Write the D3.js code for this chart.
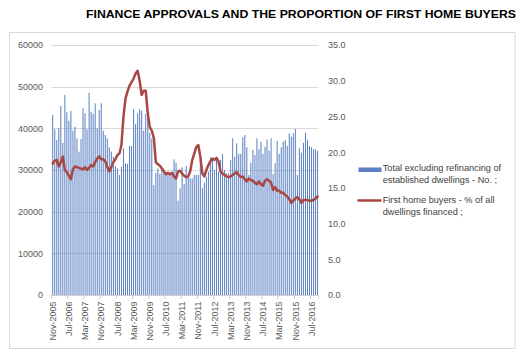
<!DOCTYPE html>
<html>
<head>
<meta charset="utf-8">
<script src="https://cdn.jsdelivr.net/npm/d3@7"></script>
<style>
  html, body { margin: 0; padding: 0; background: #fff; }
  svg { display: block; }
</style>
</head>
<body>
<svg id="chart" width="523" height="356"></svg>
<script>
// ---------- DATA ----------
const startMonth = "2005-11";   // first category (Nov-2005), monthly to Oct-2016
const monthCount = 132;

const approvals = [
  43200, 39760, 37200, 40000, 45360, 36560, 48000, 43840, 41840, 44160,
  39440, 40400, 37600, 34400, 37440, 44800, 43600, 39760, 48560, 44000,
  43440, 46000, 40000, 44400, 46000, 39440, 38400, 37600, 35440, 34400,
  33200, 30960, 30400, 28800, 30800, 35200, 31600, 31440, 35760, 35760,
  44560, 41040, 43600, 44560, 44240, 39440, 43440, 42640, 38960, 37600,
  26400, 29360, 30400, 29040, 30160, 29840, 29200, 29200, 29040, 29200,
  32560, 31760, 22640, 25600, 30640, 26640, 30960, 28400, 28000, 28000,
  28800, 28800, 28800, 32400, 25600, 26960, 28400, 29600, 33040, 32400,
  30000, 32560, 29600, 32400, 33840, 30000, 29200, 29200, 32400, 37600,
  33200, 36400, 33840, 33840, 37840, 38400, 35440, 28800, 31760, 34800,
  33600, 37600, 34960, 36800, 33840, 35600, 37360, 34640, 37600, 29040,
  31600, 37040, 33840, 35440, 36800, 37200, 35760, 38800, 38000, 38800,
  39840, 28800, 35200, 34160, 36560, 38960, 37200, 35760, 35440, 34960,
  34960, 34640
];

const firstHomeBuyersPct = [
  18.4, 18.8, 18.9, 18.0, 18.6, 19.4, 17.5, 17.2, 16.7, 16.2,
  17.6, 18.0, 17.9, 17.8, 17.7, 17.6, 17.9, 17.5, 17.8, 18.2,
  18.0, 18.6, 19.1, 19.4, 19.0, 19.0, 18.7, 17.9, 17.3, 17.9,
  18.6, 19.0, 19.6, 19.8, 21.0, 25.0, 27.5, 28.5, 29.3, 29.8,
  30.3, 31.0, 31.4, 30.0, 28.0, 28.6, 28.6, 25.5, 23.5, 23.0,
  22.0, 18.6, 18.3, 18.1, 17.7, 17.3, 16.9, 17.1, 16.9, 17.1,
  16.6, 16.3, 17.3, 17.4, 17.0, 16.7, 16.5, 16.6, 17.3, 18.9,
  19.8, 20.7, 21.0, 19.4, 17.0, 16.6, 17.5, 18.2, 18.7, 19.1,
  18.9, 19.2, 18.7, 17.3, 17.0, 16.8, 16.6, 16.5, 16.6, 16.8,
  17.0, 17.2, 16.8, 16.5, 16.6, 16.2, 15.9, 16.3, 16.1, 16.0,
  15.7, 15.5, 15.9, 15.5, 15.3, 16.0, 16.2, 16.0, 15.7, 14.7,
  15.1, 14.6, 14.6, 14.3, 14.3, 14.0, 13.8, 13.4, 12.9, 13.2,
  13.5, 13.7, 13.4, 12.9, 13.3, 13.3, 13.3, 13.2, 13.2, 13.3,
  13.5, 13.8
];

const xTickLabels = ["Nov-2005","Jul-2006","Mar-2007","Nov-2007","Jul-2008","Mar-2009",
  "Nov-2009","Jul-2010","Mar-2011","Nov-2011","Jul-2012","Mar-2013","Nov-2013",
  "Jul-2014","Mar-2015","Nov-2015","Jul-2016"];
const leftTicks = [0, 10000, 20000, 30000, 40000, 50000, 60000];
const rightTicks = [0, 5, 10, 15, 20, 25, 30, 35];
const legendLabels = [
  ["Total excluding refinancing of", "established dwellings - No. ;"],
  ["First home buyers - % of all", "dwellings financed ;"]
];
const chartTitle = "FINANCE APPROVALS AND THE PROPORTION OF FIRST HOME BUYERS";

// ---------- BUILD ----------
(function () {
const fmtMonth = d3.timeFormat("%b-%Y");
const parse = d3.timeParse("%Y-%m");
const months = d3.range(monthCount).map(i => fmtMonth(d3.timeMonth.offset(parse(startMonth), i)));
const rows = months.map((m, i) => ({ m, v: approvals[i], p: firstHomeBuyersPct[i] }));

const svg = d3.select("#chart");
const font = "'Liberation Sans', Arial, sans-serif";

// chart frame
svg.append("rect").attr("x", 9.5).attr("y", 32.5).attr("width", 505.5).attr("height", 316)
  .attr("fill", "#fff").attr("stroke", "#d9d9d9").attr("stroke-width", 1);

// title
svg.append("text").attr("x", 86).attr("y", 17.5)
  .attr("font-family", font).attr("font-weight", "bold").attr("font-size", 11.5)
  .attr("fill", "#000").attr("textLength", 430).attr("lengthAdjust", "spacingAndGlyphs")
  .text(chartTitle);

const pL = 51.7, pR = 318.6, pT = 45, pB = 295;
const x = d3.scaleBand().domain(months).range([pL, pR]).padding(0);
const yL = d3.scaleLinear().domain([0, 60000]).range([pB, pT]);
const yR = d3.scaleLinear().domain([0, 35]).range([pB, pT]);
const bw = x.bandwidth();

// gridlines
svg.append("g").selectAll("line").data(leftTicks).join("line")
  .attr("x1", pL).attr("x2", pR)
  .attr("y1", d => Math.round(yL(d)) + 0.5).attr("y2", d => Math.round(yL(d)) + 0.5)
  .attr("stroke", "#d9d9d9").attr("stroke-width", 1);

// left axis labels
const gL = svg.append("g").attr("transform", `translate(${pL - 8.7},0)`)
  .call(d3.axisLeft(yL).tickValues(leftTicks).tickSize(0).tickPadding(0).tickFormat(d3.format("d")));
gL.select(".domain").remove();
gL.selectAll("text").attr("font-family", font).attr("font-size", 9).attr("fill", "#595959");

// right axis labels
const gR = svg.append("g").attr("transform", `translate(328,0)`)
  .call(d3.axisRight(yR).tickValues(rightTicks).tickSize(0).tickPadding(0).tickFormat(d3.format(".1f")));
gR.select(".domain").remove();
gR.selectAll("text").attr("font-family", font).attr("font-size", 9).attr("fill", "#595959");

// bars
svg.append("g").selectAll("rect").data(rows).join("rect")
  .attr("x", d => x(d.m) + bw * 0.25)
  .attr("width", bw * 0.5)
  .attr("y", d => yL(d.v))
  .attr("height", d => yL(0) - yL(d.v))
  .attr("fill", "#5b80c4");

// x axis line & ticks
svg.append("line").attr("x1", pL).attr("x2", pR).attr("y1", pB + 0.5).attr("y2", pB + 0.5)
  .attr("stroke", "#d0d0d0");
const labeled = months.filter(m => xTickLabels.includes(m));
svg.append("g").selectAll("line").data(labeled.concat([null])).join("line")
  .attr("x1", d => d === null ? pR : x(d)).attr("x2", d => d === null ? pR : x(d))
  .attr("y1", pB).attr("y2", pB + 4)
  .attr("stroke", "#d0d0d0");
svg.append("g").selectAll("text").data(labeled).join("text")
  .attr("transform", d => `translate(${x(d) + bw / 2},${pB + 6.5}) rotate(-90)`)
  .attr("text-anchor", "end").attr("dy", "0.35em")
  .attr("font-family", font).attr("font-size", 9).attr("fill", "#595959")
  .text(d => d);

// line
const line = d3.line().x(d => x(d.m) + bw / 2).y(d => yR(d.p)).curve(d3.curveLinear);
svg.append("path").datum(rows).attr("d", line)
  .attr("fill", "none").attr("stroke", "#a94843").attr("stroke-width", 2.5)
  .attr("stroke-linejoin", "round").attr("stroke-linecap", "round");

// legend
const lg = svg.append("g");
lg.append("rect").attr("x", 358.5).attr("y", 167.5).attr("width", 23).attr("height", 4.5).attr("fill", "#5b80c4");
lg.append("line").attr("x1", 357.5).attr("x2", 381.5).attr("y1", 200.5).attr("y2", 200.5)
  .attr("stroke", "#a94843").attr("stroke-width", 2.5);
const legY = [[171.2, 183.2], [203.3, 215.3]];
legendLabels.forEach((lines, i) => {
  lines.forEach((t, j) => {
    lg.append("text").attr("x", 382.7).attr("y", legY[i][j])
      .attr("font-family", font).attr("font-size", 9.2).attr("fill", "#404040").text(t);
  });
});
})();
</script>
</body>
</html>
